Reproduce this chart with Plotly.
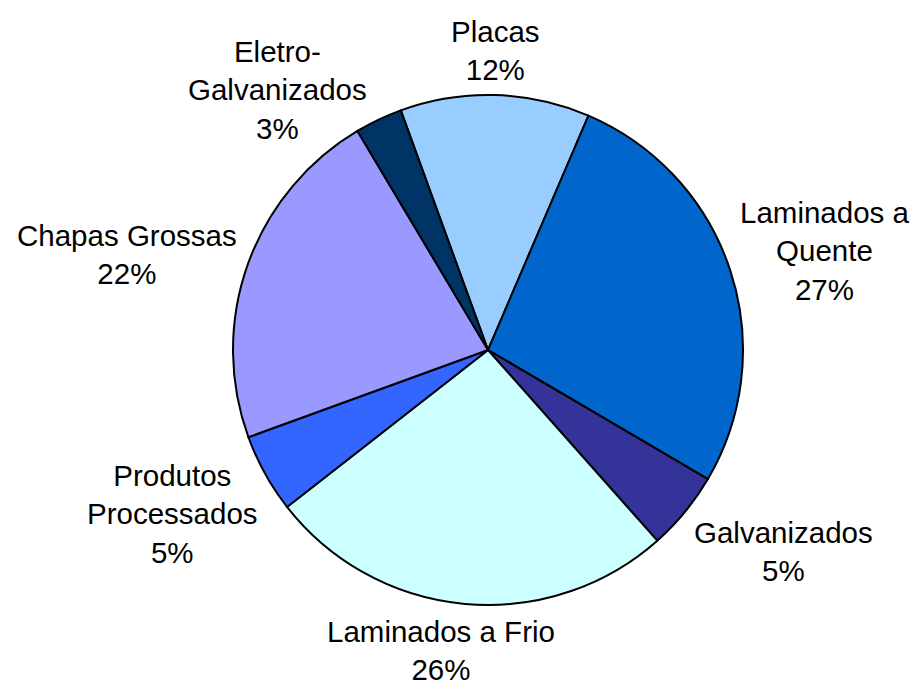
import plotly.graph_objects as go

# slices, clockwise from the top
labels = ["Placas", "Laminados a Quente", "Galvanizados", "Laminados a Frio",
          "Produtos Processados", "Chapas Grossas", "Eletro-Galvanizados"]
values = [12, 27, 5, 26, 5, 22, 3]
label_text = ["Placas", "Laminados a<br>Quente", "Galvanizados", "Laminados a Frio",
              "Produtos<br>Processados", "Chapas Grossas", "Eletro-<br>Galvanizados"]
colors = ["#99CCFF", "#0066CC", "#333399", "#CCFFFF", "#3366FF", "#9999FF", "#003366"]

W, H = 914, 686
# label centres in pixels (x, y from top)
label_pos = [(495, 50), (825, 251), (783, 551), (441, 650), (172, 514), (127, 254), (277, 90)]

fig = go.Figure()
fig.add_trace(go.Pie(
    labels=labels, values=values,
    sort=False, direction='clockwise', rotation=340,
    marker=dict(colors=colors, line=dict(color='black', width=2)),
    textinfo='none', hoverinfo='label+percent',
    showlegend=False,
    domain=dict(x=[233 / W, 743 / W], y=[81 / H, 591 / H])
))

total = sum(values)
for txt, v, (px, py) in zip(label_text, values, label_pos):
    fig.add_annotation(
        x=px / W, y=1 - py / H, xref='paper', yref='paper',
        text=f"{txt}<br>{round(100 * v / total)}%",
        showarrow=False, xanchor='center', yanchor='middle', align='center',
        font=dict(family='Liberation Sans, Arial', size=29.5, color='black')
    )

fig.update_layout(
    width=W, height=H,
    paper_bgcolor='white', plot_bgcolor='white',
    margin=dict(l=0, r=0, t=0, b=0)
)

# drop the browser's default body margin so the figure fills the window
fig.write_html("out.html", config={'displayModeBar': False},
               post_script="document.body.style.margin='0';")
